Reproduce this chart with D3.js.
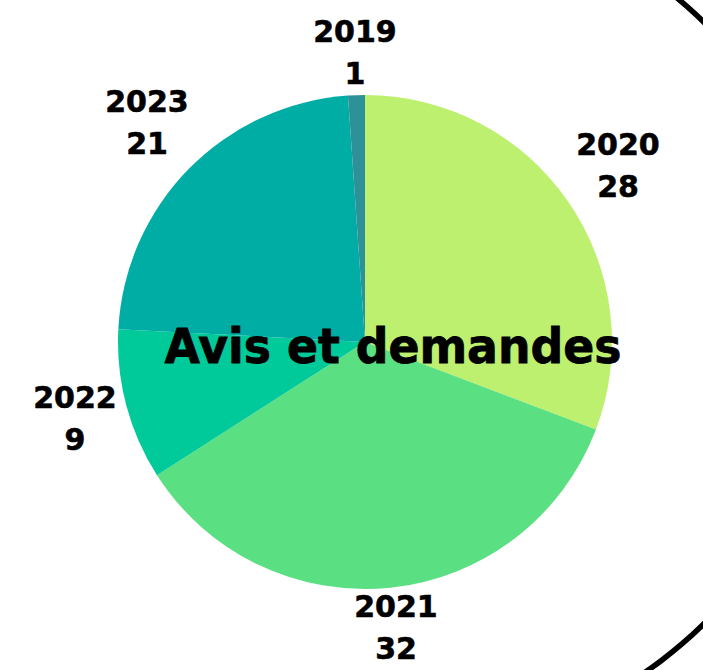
<!DOCTYPE html>
<html>
<head>
<meta charset="utf-8">
<script src="https://cdn.jsdelivr.net/npm/d3@7"></script>
<style>
  html, body { margin: 0; padding: 0; background: #ffffff; }
  svg { display: block; }
</style>
</head>
<body>
<svg id="chart" width="703" height="670"></svg>
<script>
// Data (pie order clockwise from 12 o'clock)
const years  = ["2020", "2021", "2022", "2023", "2019"];
const counts = [28, 32, 9, 21, 1];
const colors = ["#bdf06e", "#5adf82", "#00c99a", "#00ada5", "#2e9198"];
const title = "Avis et demandes";

const svg = d3.select("#chart");
const cx = 365, cy = 342, R = 247;

// background decorative ring segment (only the right part is visible)
const ring = d3.arc()
  .innerRadius(420.5).outerRadius(426)
  .startAngle(36 * Math.PI / 180).endAngle(150 * Math.PI / 180);
svg.append("path")
  .attr("transform", "translate(406,323)")
  .attr("d", ring())
  .attr("fill", "#000");

const pie = d3.pie().sort(null).value(d => d)(counts);
const arc = d3.arc().innerRadius(0).outerRadius(R);

const g = svg.append("g").attr("transform", `translate(${cx},${cy})`);
g.selectAll("path").data(pie).enter().append("path")
  .attr("d", arc)
  .attr("fill", (d, i) => colors[i]);

// labels (two lines: year / value)
const labelPos = {
  "2020": [618, 155],
  "2021": [396, 617],
  "2022": [75, 408],
  "2023": [147, 112],
  "2019": [355, 42]
};
const lab = svg.append("g")
  .attr("font-family", "'DejaVu Sans', sans-serif")
  .attr("font-weight", "bold")
  .attr("font-size", 30)
  .attr("fill", "#000")
  .attr("stroke", "#000")
  .attr("stroke-width", 0.6)
  .attr("text-anchor", "middle");
years.forEach((y, i) => {
  const [x, by] = labelPos[y];
  const t = lab.append("text").attr("x", x).attr("y", by);
  t.append("tspan").attr("x", x).attr("y", by).text(y);
  t.append("tspan").attr("x", x).attr("y", by + 42).text(counts[i]);
});

svg.append("text")
  .attr("x", 393).attr("y", 363)
  .attr("text-anchor", "middle")
  .attr("font-family", "'DejaVu Sans', sans-serif")
  .attr("font-weight", "bold")
  .attr("font-size", 48)
  .attr("textLength", 457)
  .attr("lengthAdjust", "spacingAndGlyphs")
  .attr("fill", "#000")
  .attr("stroke", "#000")
  .attr("stroke-width", 0.8)
  .text(title);
</script>
</body>
</html>
